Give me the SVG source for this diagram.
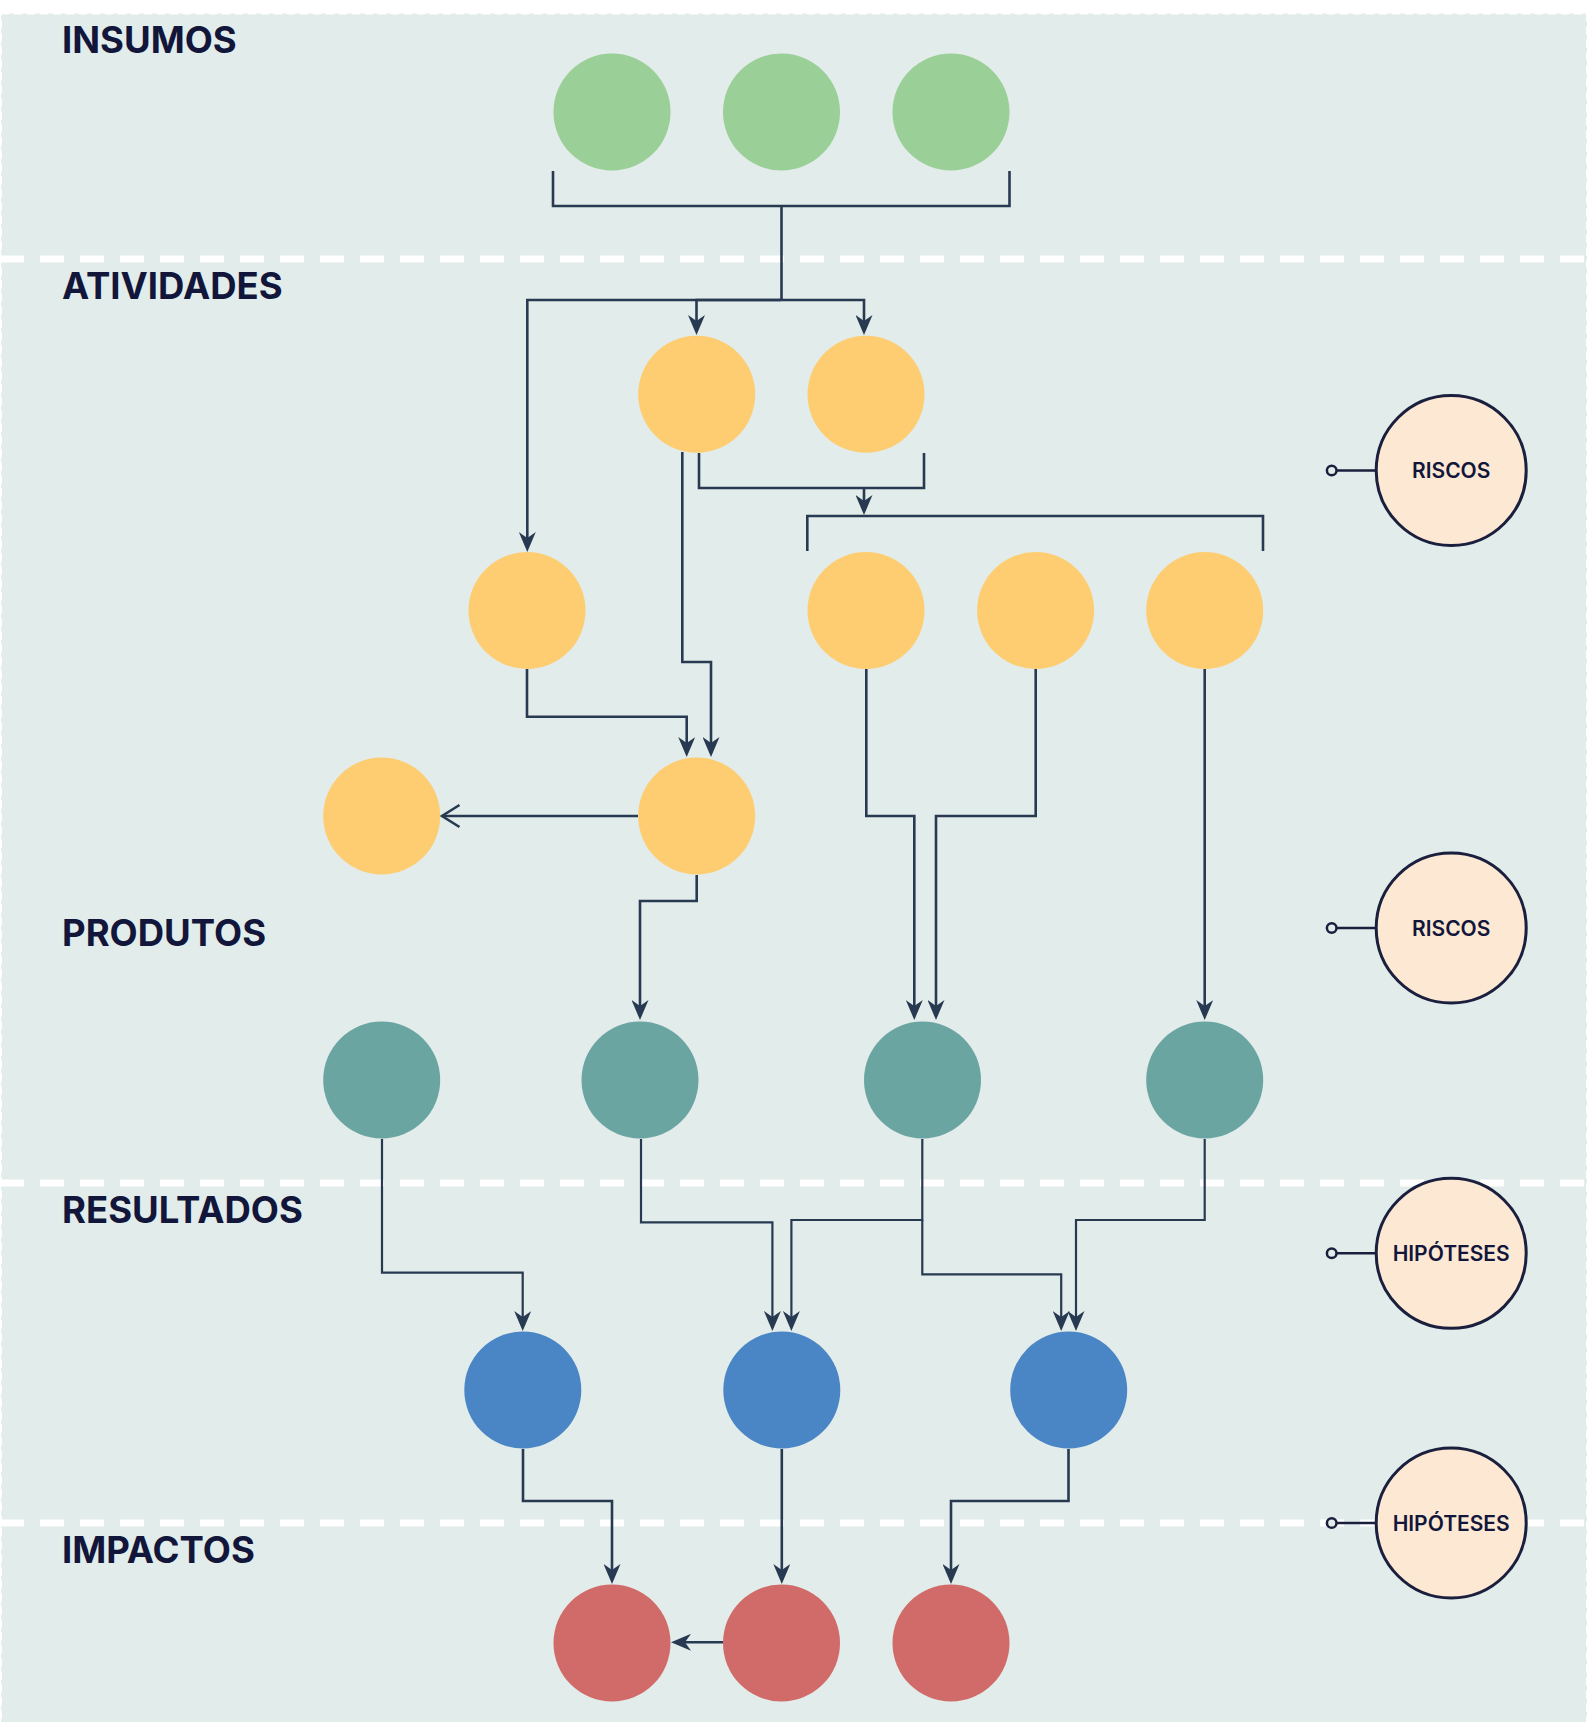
<svg xmlns="http://www.w3.org/2000/svg" width="1588" height="1722" viewBox="0 0 1588 1722">
<style>
.lbl{font-family:Inter,"Liberation Sans",sans-serif;font-weight:700;font-size:36.5px;fill:#11163a}
.side{font-family:Inter,"Liberation Sans",sans-serif;font-weight:600;font-size:21px;fill:#11163a;text-anchor:middle}
.sep{stroke:#ffffff;stroke-width:7;stroke-dasharray:24 16}
.c{fill:none;stroke:#283a52;stroke-width:2.6}
.c2{fill:none;stroke:#283a52;stroke-width:2.2}
.in{fill:#9acf97}.act{fill:#fecd72}.out{fill:#6aa5a2}.res{fill:#4a86c5}.imp{fill:#d06b6a}
.note{fill:#fde8d3;stroke:#1a1f3d;stroke-width:3}
.tick{fill:#e2ecea;stroke:#1a1f3d;stroke-width:2.5}
.tl{stroke:#1a1f3d;stroke-width:2.5}
</style>
<defs>
<marker id="ah" viewBox="0 0 20 17" refX="16" refY="8.5" markerWidth="20" markerHeight="17" markerUnits="userSpaceOnUse" orient="auto">
<path d="M0,0 L20,8.5 L0,17 L6,8.5 Z" fill="#283a52"/>
</marker>
</defs>
<rect x="1" y="13.5" width="1586" height="1730" fill="#e2ecea" stroke="#ffffff" stroke-width="2" stroke-dasharray="8 5"/>
<g id="separators">
<line class="sep" x1="0" y1="259" x2="1588" y2="259"/>
<line class="sep" x1="0" y1="1183" x2="1588" y2="1183"/>
<line class="sep" x1="0" y1="1523" x2="1588" y2="1523"/>
</g>
<g id="labels">
<text class="lbl" x="62" y="53">INSUMOS</text>
<text class="lbl" x="62" y="299">ATIVIDADES</text>
<text class="lbl" x="62" y="946">PRODUTOS</text>
<text class="lbl" x="62" y="1223">RESULTADOS</text>
<text class="lbl" x="62" y="1563">IMPACTOS</text>
</g>
<g id="connectors">
<path class="c" d="M553,171 V206 H1009.5 V171"/>
<path class="c" d="M781.5,206 V300"/>
<path class="c" d="M781.5,300 H527.3 V548" marker-end="url(#ah)"/>
<path class="c" d="M781.5,300 H696.5 V331" marker-end="url(#ah)"/>
<path class="c" d="M781.5,300 H864 V331" marker-end="url(#ah)"/>
<path class="c" d="M699,453 V488 H924 V453"/>
<path class="c" d="M864,488 V511" marker-end="url(#ah)"/>
<path class="c" d="M807.3,551 V516 H1263 V551"/>
<path class="c" d="M682.3,452 V662 H711 V753" marker-end="url(#ah)"/>
<path class="c" d="M527,669 V716.7 H686.7 V753" marker-end="url(#ah)"/>
<path class="c" d="M638,816 H442"/>
<path class="c" d="M459.5,805 L442,816 L459.5,827"/>
<path class="c" d="M696.7,875 V901 H640 V1016" marker-end="url(#ah)"/>
<path class="c" d="M866.3,669 V816 H914.3 V1016" marker-end="url(#ah)"/>
<path class="c" d="M1035.7,669 V816 H936 V1016" marker-end="url(#ah)"/>
<path class="c" d="M1204.7,669 V1016" marker-end="url(#ah)"/>
<path class="c2" d="M382,1139 V1272.7 H522.7 V1327" marker-end="url(#ah)"/>
<path class="c2" d="M641,1139 V1222.3 H772.4 V1327" marker-end="url(#ah)"/>
<path class="c2" d="M922.3,1139 V1220 H791.4 V1327" marker-end="url(#ah)"/>
<path class="c2" d="M922.3,1220 V1274.3 H1061.2 V1327" marker-end="url(#ah)"/>
<path class="c2" d="M1204.7,1139 V1220 H1076 V1327" marker-end="url(#ah)"/>
<path class="c" d="M523,1449 V1501 H612 V1580" marker-end="url(#ah)"/>
<path class="c" d="M781.8,1449 V1580" marker-end="url(#ah)"/>
<path class="c" d="M1068.5,1449 V1501 H951 V1580" marker-end="url(#ah)"/>
<path class="c" d="M723,1642.3 H675" marker-end="url(#ah)"/>
</g>
<g id="insumo-1"><circle class="in" cx="612" cy="112" r="58.5"/></g>
<g id="insumo-2"><circle class="in" cx="781.5" cy="112" r="58.5"/></g>
<g id="insumo-3"><circle class="in" cx="951" cy="112" r="58.5"/></g>
<g id="atividade-1"><circle class="act" cx="696.7" cy="394.3" r="58.5"/></g>
<g id="atividade-2"><circle class="act" cx="866" cy="394.3" r="58.5"/></g>
<g id="atividade-3"><circle class="act" cx="527" cy="610.5" r="58.5"/></g>
<g id="atividade-4"><circle class="act" cx="866" cy="610.5" r="58.5"/></g>
<g id="atividade-5"><circle class="act" cx="1035.6" cy="610.5" r="58.5"/></g>
<g id="atividade-6"><circle class="act" cx="1204.7" cy="610.5" r="58.5"/></g>
<g id="atividade-7"><circle class="act" cx="381.7" cy="816" r="58.5"/></g>
<g id="atividade-8"><circle class="act" cx="696.7" cy="816" r="58.5"/></g>
<g id="produto-1"><circle class="out" cx="381.7" cy="1080" r="58.5"/></g>
<g id="produto-2"><circle class="out" cx="640" cy="1080" r="58.5"/></g>
<g id="produto-3"><circle class="out" cx="922.5" cy="1080" r="58.5"/></g>
<g id="produto-4"><circle class="out" cx="1204.7" cy="1080" r="58.5"/></g>
<g id="resultado-1"><circle class="res" cx="522.8" cy="1390" r="58.5"/></g>
<g id="resultado-2"><circle class="res" cx="781.8" cy="1390" r="58.5"/></g>
<g id="resultado-3"><circle class="res" cx="1068.7" cy="1390" r="58.5"/></g>
<g id="impacto-1"><circle class="imp" cx="612" cy="1643" r="58.5"/></g>
<g id="impacto-2"><circle class="imp" cx="781.5" cy="1643" r="58.5"/></g>
<g id="impacto-3"><circle class="imp" cx="951" cy="1643" r="58.5"/></g>
<g id="riscos-1">
<line class="tl" x1="1337" y1="470.5" x2="1376" y2="470.5"/>
<circle class="tick" cx="1331.7" cy="470.5" r="4.8"/>
<circle class="note" cx="1451.2" cy="470.5" r="75"/>
<text class="side" x="1451.2" y="478">RISCOS</text>
</g>
<g id="riscos-2">
<line class="tl" x1="1337" y1="928" x2="1376" y2="928"/>
<circle class="tick" cx="1331.7" cy="928" r="4.8"/>
<circle class="note" cx="1451.2" cy="928" r="75"/>
<text class="side" x="1451.2" y="935.5">RISCOS</text>
</g>
<g id="hipoteses-1">
<line class="tl" x1="1337" y1="1253.3" x2="1376" y2="1253.3"/>
<circle class="tick" cx="1331.7" cy="1253.3" r="4.8"/>
<circle class="note" cx="1451.2" cy="1253.3" r="75"/>
<text class="side" x="1451.2" y="1261">HIPÓTESES</text>
</g>
<g id="hipoteses-2">
<line class="tl" x1="1337" y1="1523" x2="1376" y2="1523"/>
<circle class="tick" cx="1331.7" cy="1523" r="4.8"/>
<circle class="note" cx="1451.2" cy="1523" r="75"/>
<text class="side" x="1451.2" y="1530.5">HIPÓTESES</text>
</g>
</svg>
